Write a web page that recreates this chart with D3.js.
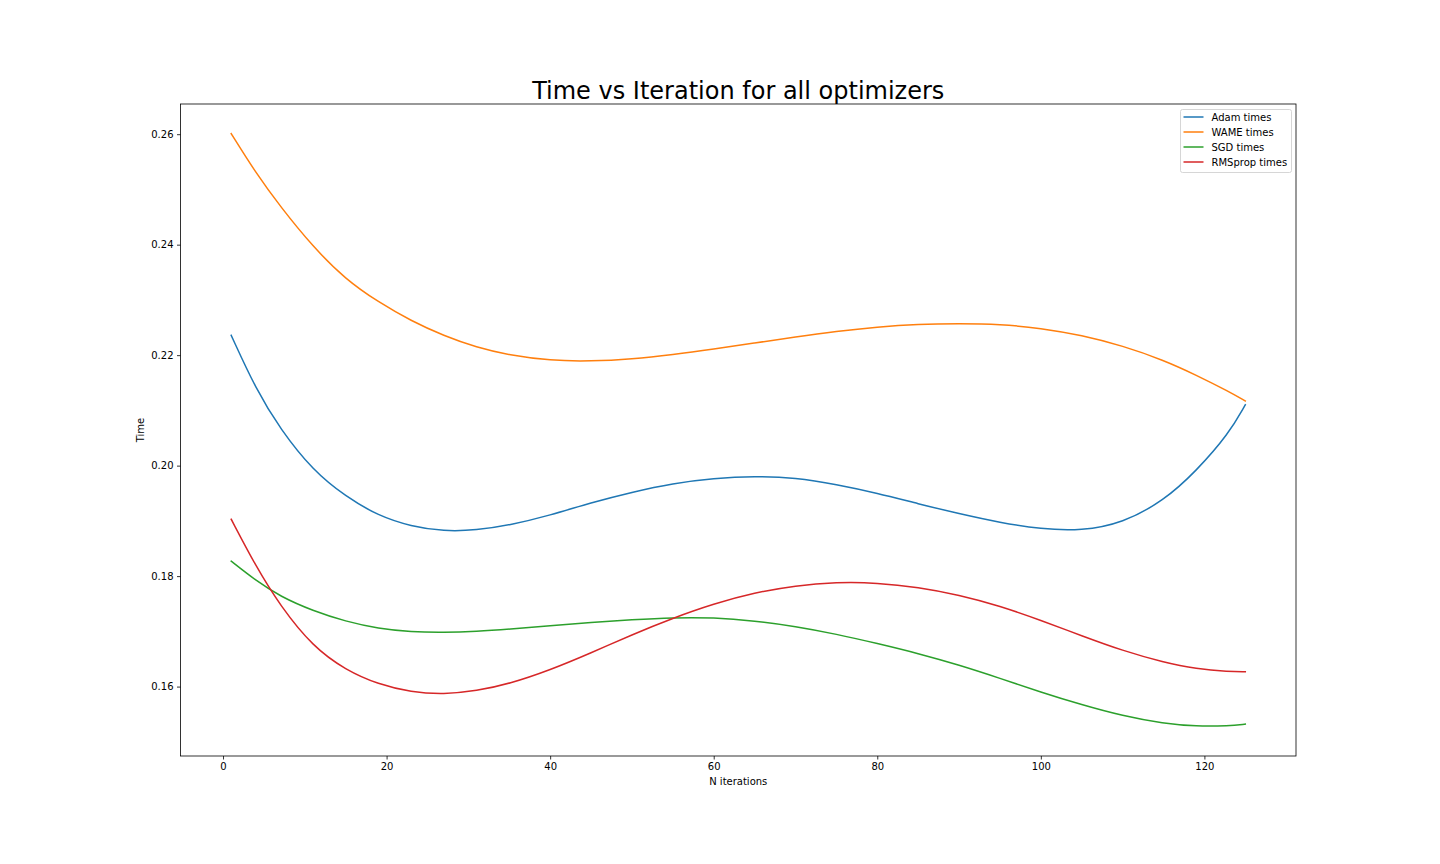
<!DOCTYPE html>
<html>
<head>
<meta charset="utf-8">
<script src="https://cdn.jsdelivr.net/npm/d3@7"></script>
<style>
  html, body { margin: 0; padding: 0; background: #fff; }
  svg { display: block; font-family: "DejaVu Sans", sans-serif; }
</style>
</head>
<body>
<div id="chart"></div>
<script>
const width = 1440;
const height = 864;

// values
const iterations = [1, 4, 7, 11, 15, 19, 23, 27, 31, 35, 40, 45, 50, 55, 60, 65, 70, 75, 80, 85, 90, 95, 100, 105, 110, 115, 119, 123, 125];
const adamTimes = [0.2236, 0.2139, 0.2066, 0.1991, 0.1944, 0.1909, 0.1890, 0.1881, 0.1883, 0.1892, 0.1910, 0.1933, 0.1952, 0.1968, 0.1977, 0.1981, 0.1978, 0.1966, 0.1950, 0.1931, 0.1913, 0.1897, 0.1885, 0.1882, 0.1896, 0.1936, 0.1990, 0.2058, 0.2110];
const wameTimes = [0.2601, 0.2530, 0.2469, 0.2396, 0.2337, 0.2296, 0.2262, 0.2235, 0.2214, 0.2200, 0.2190, 0.2189, 0.2193, 0.2201, 0.2211, 0.2222, 0.2233, 0.2243, 0.2251, 0.2256, 0.2257, 0.2256, 0.2249, 0.2236, 0.2217, 0.2191, 0.2164, 0.2134, 0.2117];
const sgdTimes = [0.1827, 0.1792, 0.1763, 0.1737, 0.1718, 0.1705, 0.1699, 0.1698, 0.1700, 0.1704, 0.1710, 0.1716, 0.1721, 0.1725, 0.1725, 0.1719, 0.1709, 0.1695, 0.1678, 0.1660, 0.1639, 0.1615, 0.1590, 0.1567, 0.1547, 0.1533, 0.1528, 0.1529, 0.1532];
const rmspropTimes = [0.1903, 0.1818, 0.1746, 0.1672, 0.1630, 0.1604, 0.1590, 0.1586, 0.1592, 0.1605, 0.1630, 0.1661, 0.1694, 0.1724, 0.1750, 0.1770, 0.1783, 0.1789, 0.1788, 0.1780, 0.1766, 0.1746, 0.1720, 0.1692, 0.1665, 0.1644, 0.1632, 0.1627, 0.1627];
const seriesNames = ['Adam times', 'WAME times', 'SGD times', 'RMSprop times'];
const xTicks = [0, 20, 40, 60, 80, 100, 120];
const yTicks = [0.16, 0.18, 0.20, 0.22, 0.24, 0.26];

const series = [adamTimes, wameTimes, sgdTimes, rmspropTimes].map((values, i) => ({
  name: seriesNames[i],
  color: d3.schemeCategory10[i],
  points: values.map((v, j) => ({ x: iterations[j], y: v })),
}));

const area = { left: 180.5, right: 1296, top: 104, bottom: 756 };

// matplotlib-like 5% margins around the data
function padded([lo, hi]) {
  const m = (hi - lo) * 0.05;
  return [lo - m, hi + m];
}
const allValues = series.flatMap((s) => s.points.map((p) => p.y));

const xScale = d3.scaleLinear()
  .domain(padded(d3.extent(iterations)))
  .range([area.left, area.right]);

const yScale = d3.scaleLinear()
  .domain(padded(d3.extent(allValues)))
  .range([area.bottom, area.top]);

const svg = d3.select('#chart')
  .append('svg')
  .attr('width', width)
  .attr('height', height)
  .attr('viewBox', `0 0 ${width} ${height}`);

svg.append('rect').attr('width', width).attr('height', height).attr('fill', '#fff');

const line = d3.line()
  .x((d) => xScale(d.x))
  .y((d) => yScale(d.y))
  .curve(d3.curveBasis);

svg.append('defs').append('clipPath').attr('id', 'clip')
  .append('rect')
  .attr('x', area.left).attr('y', area.top)
  .attr('width', area.right - area.left).attr('height', area.bottom - area.top);

svg.append('g')
  .attr('clip-path', 'url(#clip)')
  .selectAll('path')
  .data(series)
  .join('path')
  .attr('fill', 'none')
  .attr('stroke', (d) => d.color)
  .attr('stroke-width', 1.5)
  .attr('stroke-linecap', 'square')
  .attr('d', (d) => line(d.points));

// axes
const xAxis = d3.axisBottom(xScale).tickValues(xTicks).tickSize(3.5).tickPadding(3.5).tickSizeOuter(0);
const yAxis = d3.axisLeft(yScale).tickValues(yTicks).tickSize(3.5).tickPadding(3.5).tickSizeOuter(0)
  .tickFormat(d3.format('.2f'));

const gx = svg.append('g')
  .attr('transform', `translate(0, ${area.bottom})`)
  .call(xAxis);
const gy = svg.append('g')
  .attr('transform', `translate(${area.left}, 0)`)
  .call(yAxis);

[gx, gy].forEach((g) => {
  g.select('.domain').remove();
  g.selectAll('.tick line').attr('stroke', '#000').attr('stroke-width', 0.8);
  g.selectAll('.tick text').attr('fill', '#000').style('font-size', '10px').style('font-family', '"DejaVu Sans", sans-serif');
});

// frame
svg.append('rect')
  .attr('x', area.left).attr('y', area.top)
  .attr('width', area.right - area.left).attr('height', area.bottom - area.top)
  .attr('fill', 'none')
  .attr('stroke', '#000')
  .attr('stroke-width', 0.8);

// labels
svg.append('text')
  .attr('x', (area.left + area.right) / 2)
  .attr('y', 98.5)
  .attr('text-anchor', 'middle')
  .style('font-size', '24px')
  .text('Time vs Iteration for all optimizers');

svg.append('text')
  .attr('x', (area.left + area.right) / 2)
  .attr('y', 785)
  .attr('text-anchor', 'middle')
  .style('font-size', '10px')
  .text('N iterations');

svg.append('text')
  .attr('transform', `translate(144, ${(area.top + area.bottom) / 2}) rotate(-90)`)
  .attr('text-anchor', 'middle')
  .style('font-size', '10px')
  .text('Time');

// legend
const legend = svg.append('g').attr('transform', 'translate(1180.5, 109.5)');
legend.append('rect')
  .attr('width', 111)
  .attr('height', 63)
  .attr('rx', 2)
  .attr('fill', '#fff')
  .attr('fill-opacity', 0.8)
  .attr('stroke', '#cccccc')
  .attr('stroke-width', 0.8);

const items = legend.selectAll('g.item')
  .data(series)
  .join('g')
  .attr('class', 'item')
  .attr('transform', (d, i) => `translate(0, ${7.5 + i * 15})`);

items.append('line')
  .attr('x1', 3).attr('x2', 23)
  .attr('stroke', (d) => d.color)
  .attr('stroke-width', 1.5);

items.append('text')
  .attr('x', 31)
  .attr('dy', '0.35em')
  .style('font-size', '10px')
  .text((d) => d.name);
</script>
</body>
</html>
